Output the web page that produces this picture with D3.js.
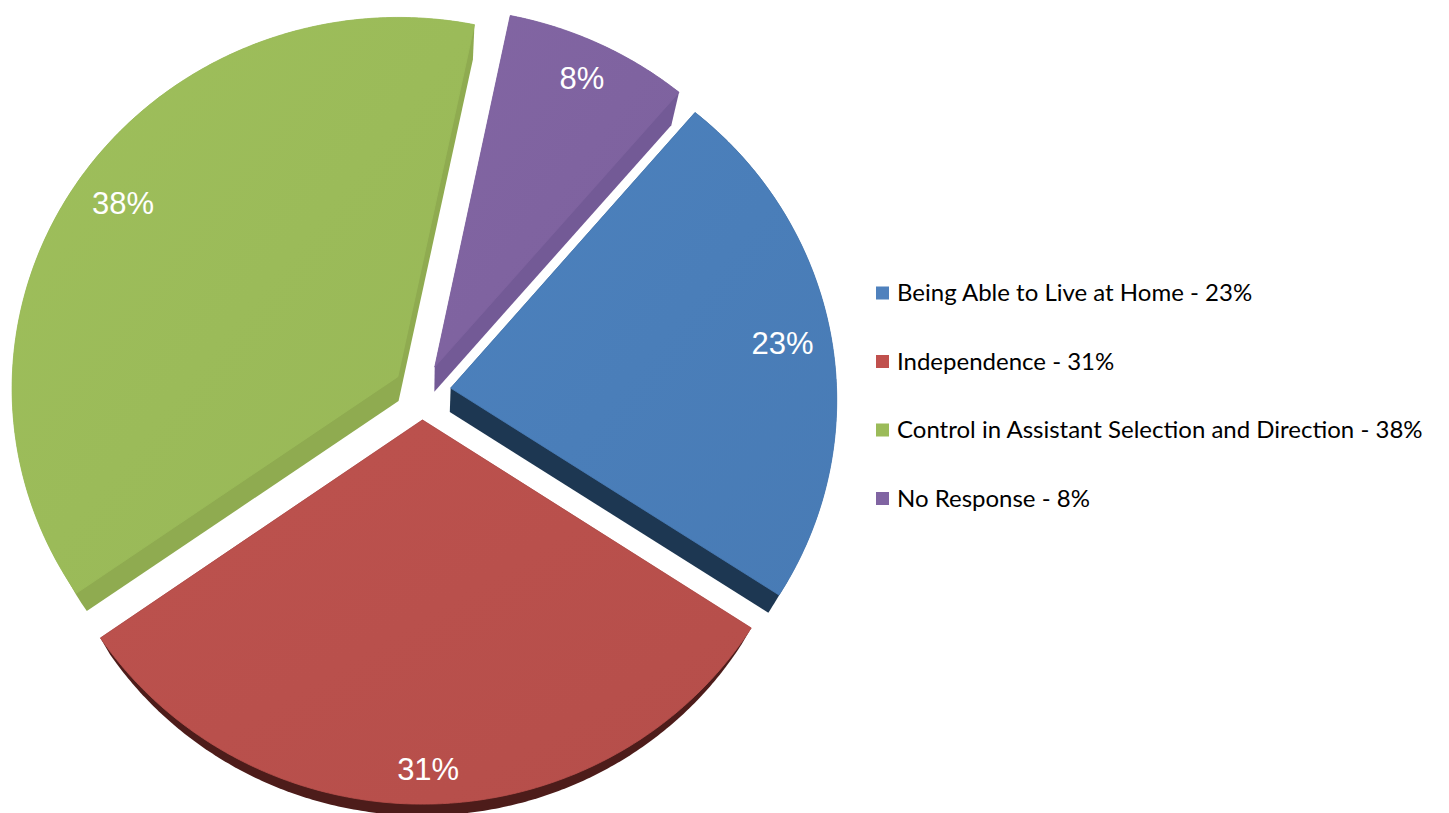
<!DOCTYPE html>
<html lang="en">
<head>
  <meta charset="UTF-8">
  <title>Pie</title>
  <style>
    body { margin: 0; background: #fff; }
  </style>
</head>
<body>
  <script src="https://d3js.org/d3.v7.min.js"></script>
  <script>
    const categories = ['Being Able to Live at Home', 'Independence', 'Control in Assistant Selection and Direction', 'No Response'];
    const values = [23, 31, 38, 8];
    const legendColors = ['#4f81bd', '#c0504d', '#9bbb59', '#8064a2'];
    const faceColors = ['#4a7eb9', '#b9504c', '#9bbb59', '#7f63a0'];
    const wallColors = ['#1d3752', '#4d1c1a', '#8fab50', '#735a96'];

    const width = 1449, height = 813;
    // tilted pie: centre, radii, a bit of perspective
    const cx = 422, cy = 392, rx = 386, ry = 371, persp = 0.03;
    const explode = 0.075, depth = 0.03;
    const vanish = [cx, cy + 795];
    const startDeg = 40.5;
    const labelPad = 0.042;

    const svg = d3.select('body').append('svg').attr('width', width).attr('height', height);
    const defs = svg.append('defs');

    const a0 = startDeg * Math.PI / 180;
    const pie = d3.pie().sort(null).startAngle(a0).endAngle(a0 + 2 * Math.PI);
    const arcs = pie(values);

    function project(u, v) {
      const k = 1 + persp * v;
      return [cx + rx * u / k, cy - ry * v / k];
    }
    function sink(p) {
      return [p[0] + depth * (vanish[0] - p[0]), p[1] + depth * (vanish[1] - p[1])];
    }

    const line = d3.line().curve(d3.curveLinearClosed);

    arcs.forEach((d, i) => {
      const mid = (d.startAngle + d.endAngle) / 2;
      const ou = explode * Math.sin(mid), ov = explode * Math.cos(mid);
      const steps = Math.ceil((d.endAngle - d.startAngle) / 0.01);
      const top = [project(ou, ov)];
      d3.range(steps + 1).forEach(s => {
        const t = d.startAngle + (d.endAngle - d.startAngle) * s / steps;
        top.push(project(ou + Math.sin(t), ov + Math.cos(t)));
      });
      const hull = d3.polygonHull(top.concat(top.map(sink)));

      const g = svg.append('g').attr('class', 'slice');
      g.append('path').attr('d', line(hull)).attr('fill', wallColors[i]);

      const grad = defs.append('linearGradient').attr('id', 'g' + i)
        .attr('x1', 0).attr('y1', 0).attr('x2', 1).attr('y2', 1);
      grad.append('stop').attr('offset', 0).attr('stop-color', d3.color(faceColors[i]).brighter(0.06));
      grad.append('stop').attr('offset', 1).attr('stop-color', d3.color(faceColors[i]).darker(0.06));

      g.append('path').attr('d', line(top))
        .attr('fill', `url(#g${i})`)
        .attr('stroke', faceColors[i]).attr('stroke-width', 0.8);

      // label, inside end
      const txt = g.append('text')
        .attr('font-family', '"Liberation Sans", Arial, sans-serif')
        .attr('font-size', 31)
        .attr('fill', '#fff')
        .attr('text-anchor', 'middle')
        .text(values[i] + '%');
      const bb = txt.node().getBBox();
      const ext = (Math.abs(bb.width / 2 * Math.sin(mid)) + Math.abs(bb.height / 2 * Math.cos(mid))) / rx;
      const r = 1 - labelPad - ext;
      const p = project(ou + r * Math.sin(mid), ov + r * Math.cos(mid));
      txt.attr('x', p[0]).attr('y', p[1]).attr('dy', '0.36em');
    });

    // legend
    const legend = svg.append('g').attr('transform', 'translate(876,293)');
    const rows = legend.selectAll('g').data(categories).enter().append('g')
      .attr('transform', (d, i) => `translate(0,${i * 68.5})`);
    rows.append('rect').attr('x', 0).attr('y', -6.5).attr('width', 13).attr('height', 13)
      .attr('fill', (d, i) => legendColors[i]);
    rows.append('text').attr('x', 21).attr('dy', '0.35em')
      .attr('font-family', 'Lato, "Open Sans", sans-serif')
      .attr('font-size', 24)
      .attr('fill', '#000')
      .text((d, i) => `${d} - ${values[i]}%`);
  </script>
</body>
</html>
